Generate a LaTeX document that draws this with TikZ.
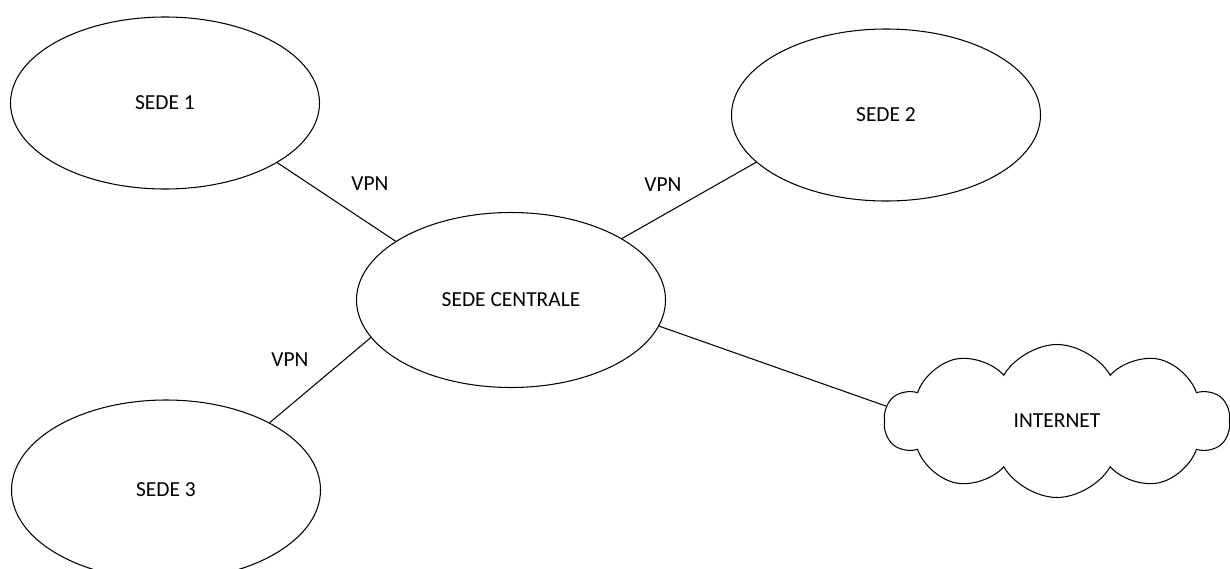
\documentclass[tikz,border=0pt]{standalone}
\usepackage{fontspec}
\setmainfont{Carlito}
\usepackage{tikz}
\usetikzlibrary{shapes.geometric,shapes.symbols}
\tikzset{%
    sede/.style={%
        draw, ellipse, line width=0.6pt, inner sep=0pt,
        minimum width=6.18cm, minimum height=3.44cm
    },
    rete/.style={%
        draw, cloud, line width=0.6pt, cloud puffs=10, cloud puff arc=120,
        cloud ignores aspect, minimum width=6.9cm, minimum height=3.06cm
    },
    link/.style={line width=0.6pt}
}

\begin{document}
\begin{tikzpicture}[font=\fontsize{12.2}{14}\selectfont]
    \useasboundingbox (0,0) rectangle (24.6,11.36);
    \clip (0,0) rectangle (24.6,11.36);
    \node[sede] (s1) at (3.3,9.3) {SEDE 1};
    \node[sede] (s2) at (17.72,9.06) {SEDE 2};
    \node[sede, minimum height=3.5cm] (sc) at (10.22,5.36) {SEDE CENTRALE};
    \node[sede, minimum height=3.6cm] (s3) at (3.32,1.56) {SEDE 3};
    \node[rete] (net) at (21.14,2.94) {INTERNET};
    \draw[link] (s1.-28) -- (sc.153);
    \draw[link] (s2.200) -- (sc.29);
    \draw[link] (s3.33) -- (sc.195);
    \draw[link] (sc.-10) -- (net.175);
    \node[] (vpn1) at (7.4,7.68) {VPN};
    \node[] (vpn2) at (13.26,7.66) {VPN};
    \node[] (vpn3) at (5.8,4.16) {VPN};
\end{tikzpicture}
\end{document}
